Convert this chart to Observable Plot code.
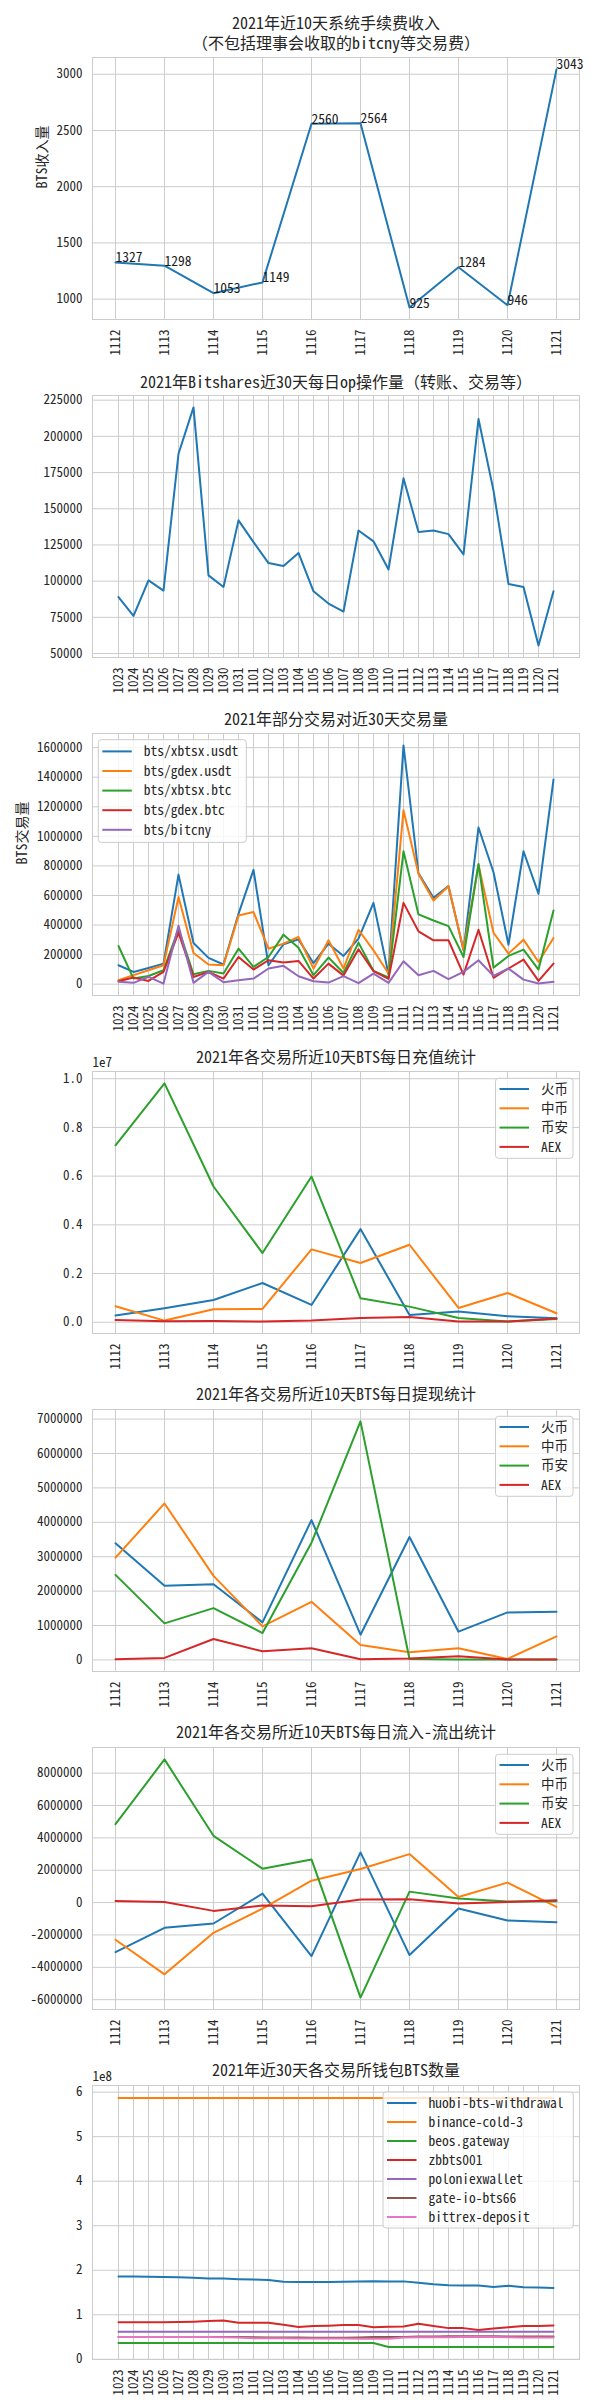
<!DOCTYPE html>
<html><head><meta charset="utf-8">
<script src="https://cdn.jsdelivr.net/npm/d3@7"></script>
<script src="https://cdn.jsdelivr.net/npm/@observablehq/plot@0.6"></script>
<style>
body{margin:0;background:#fff}
#charts{width:600px}
#charts svg{display:block}
</style>
</head><body><div id="charts"></div>
<script>
// ---------- data ----------
const days10 = ["1112","1113","1114","1115","1116","1117","1118","1119","1120","1121"];
const days30 = ["1023","1024","1025","1026","1027","1028","1029","1030","1031","1101","1102","1103","1104","1105","1106","1107","1108","1109","1110","1111","1112","1113","1114","1115","1116","1117","1118","1119","1120","1121"];

// panel 1: fee income
const feeIncome = [1327, 1298, 1053, 1149, 2560, 2564, 925, 1284, 946, 3043];
const feeTicks = [1000, 1500, 2000, 2500, 3000];

// panel 2: daily ops
const dailyOps = [89000, 76000, 100500, 93500, 188000, 220000, 104000, 96000, 142000, 127000, 112500, 110500, 119500, 93000, 84500, 79000, 135000, 127500, 108000, 171000, 134000, 135000, 132500, 118500, 212000, 162500, 98000, 96000, 55500, 93000];
const opsTicks = [50000, 75000, 100000, 125000, 150000, 175000, 200000, 225000];

// panel 3: pair volumes
const pairNames = ["bts/xbtsx.usdt", "bts/gdex.usdt", "bts/xbtsx.btc", "bts/gdex.btc", "bts/bitcny"];
const volXbtsxUsdt = [128000, 83000, 110000, 139000, 741000, 279000, 178000, 133000, 476000, 773000, 128000, 270000, 303000, 142000, 274000, 191000, 308000, 550000, 67000, 1615000, 750000, 584000, 663000, 229000, 1060000, 757000, 267000, 899000, 611000, 1384000];
const volGdexUsdt = [27000, 61000, 94000, 128000, 589000, 211000, 133000, 128000, 465000, 488000, 240000, 274000, 319000, 105000, 297000, 106000, 368000, 229000, 72000, 1177000, 746000, 566000, 663000, 234000, 807000, 348000, 207000, 301000, 150000, 312000];
const volXbtsxBtc = [258000, 38000, 55000, 94000, 375000, 67000, 90000, 72000, 240000, 117000, 184000, 335000, 247000, 61000, 180000, 76000, 281000, 90000, 45000, 899000, 472000, 431000, 393000, 184000, 813000, 112000, 191000, 234000, 99000, 499000];
const volGdexBtc = [20000, 45000, 22000, 83000, 348000, 49000, 83000, 38000, 184000, 99000, 162000, 146000, 157000, 38000, 139000, 58000, 236000, 88000, 36000, 550000, 357000, 297000, 297000, 65000, 368000, 43000, 106000, 166000, 22000, 139000];
const volBitcny = [16000, 9000, 49000, 4000, 395000, 9000, 83000, 13000, 27000, 38000, 106000, 124000, 54000, 20000, 11000, 54000, 7000, 72000, 9000, 155000, 61000, 90000, 34000, 83000, 162000, 56000, 106000, 31000, 4000, 16000];
const volTicks = [0, 200000, 400000, 600000, 800000, 1000000, 1200000, 1400000, 1600000];

// panels 4-6: exchanges
const exNames = ["火币", "中币", "币安", "AEX"];
const depHuobi = [273000, 574000, 915000, 1612000, 710000, 3825000, 300000, 437000, 246000, 164000];
const depZb = [656000, 68000, 533000, 546000, 2992000, 2432000, 3183000, 587000, 1202000, 369000];
const depBinance = [7268000, 9808000, 5574000, 2841000, 5984000, 984000, 642000, 178000, 27000, 137000];
const depAex = [96000, 41000, 55000, 27000, 68000, 178000, 219000, 27000, 27000, 150000];
const depTicks = [0, 2000000, 4000000, 6000000, 8000000, 10000000];

const wdHuobi = [3389000, 2153000, 2201000, 1091000, 4065000, 734000, 3572000, 821000, 1381000, 1400000];
const wdZb = [2974000, 4548000, 2443000, 975000, 1690000, 434000, 222000, 338000, 29000, 686000];
const wdBinance = [2472000, 1062000, 1506000, 782000, 3408000, 6932000, 29000, 10000, 10000, 10000];
const wdAex = [19000, 58000, 608000, 251000, 338000, 19000, 39000, 106000, 10000, 10000];
const wdTicks = [0, 1000000, 2000000, 3000000, 4000000, 5000000, 6000000, 7000000];

const netHuobi = [-3059000, -1560000, -1293000, 554000, -3305000, 3100000, -3243000, -370000, -1108000, -1211000];
const netZb = [-2299000, -4434000, -1868000, -370000, 1355000, 2073000, 2997000, 349000, 1232000, -267000];
const netBinance = [4845000, 8848000, 4126000, 2094000, 2669000, -5871000, 677000, 246000, 62000, 82000];
const netAex = [103000, 41000, -513000, -185000, -226000, 185000, 205000, -62000, 41000, 144000];
const netTicks = [-6000000, -4000000, -2000000, 0, 2000000, 4000000, 6000000, 8000000];

// panel 7: wallets
const walletNames = ["huobi-bts-withdrawal", "binance-cold-3", "beos.gateway", "zbbts001", "poloniexwallet", "gate-io-bts66", "bittrex-deposit"];
const wHuobi = [1.86e8,1.86e8,1.855e8,1.85e8,1.845e8,1.83e8,1.815e8,1.815e8,1.80e8,1.79e8,1.78e8,1.74e8,1.735e8,1.735e8,1.735e8,1.74e8,1.745e8,1.755e8,1.75e8,1.75e8,1.72e8,1.685e8,1.665e8,1.655e8,1.66e8,1.625e8,1.65e8,1.62e8,1.615e8,1.60e8];
const wBinance = [5.87e8,5.87e8,5.87e8,5.87e8,5.87e8,5.87e8,5.87e8,5.87e8,5.87e8,5.87e8,5.87e8,5.87e8,5.87e8,5.87e8,5.87e8,5.87e8,5.87e8,5.87e8,5.87e8,5.87e8,5.87e8,5.87e8,5.87e8,5.87e8,5.87e8,5.87e8,5.87e8,5.87e8,5.87e8,5.87e8];
const wBeos = [0.365e8,0.365e8,0.365e8,0.365e8,0.365e8,0.365e8,0.365e8,0.365e8,0.365e8,0.365e8,0.365e8,0.365e8,0.365e8,0.365e8,0.365e8,0.365e8,0.365e8,0.365e8,0.275e8,0.275e8,0.275e8,0.275e8,0.275e8,0.275e8,0.275e8,0.275e8,0.275e8,0.275e8,0.275e8,0.275e8];
const wZb = [0.83e8,0.83e8,0.83e8,0.83e8,0.835e8,0.845e8,0.86e8,0.87e8,0.82e8,0.82e8,0.82e8,0.775e8,0.725e8,0.745e8,0.755e8,0.77e8,0.77e8,0.72e8,0.73e8,0.735e8,0.80e8,0.75e8,0.70e8,0.70e8,0.66e8,0.69e8,0.72e8,0.745e8,0.75e8,0.76e8];
const wPolo = [0.62e8,0.62e8,0.62e8,0.62e8,0.62e8,0.62e8,0.62e8,0.62e8,0.62e8,0.62e8,0.62e8,0.62e8,0.62e8,0.62e8,0.62e8,0.62e8,0.62e8,0.62e8,0.62e8,0.62e8,0.62e8,0.62e8,0.62e8,0.62e8,0.62e8,0.62e8,0.62e8,0.62e8,0.62e8,0.62e8];
const wGate = [0.50e8,0.50e8,0.50e8,0.50e8,0.50e8,0.50e8,0.50e8,0.50e8,0.50e8,0.495e8,0.49e8,0.49e8,0.49e8,0.485e8,0.485e8,0.485e8,0.49e8,0.50e8,0.50e8,0.50e8,0.51e8,0.51e8,0.52e8,0.52e8,0.52e8,0.515e8,0.51e8,0.51e8,0.51e8,0.51e8];
const wBittrex = [0.50e8,0.50e8,0.50e8,0.50e8,0.50e8,0.50e8,0.50e8,0.495e8,0.49e8,0.475e8,0.47e8,0.47e8,0.465e8,0.465e8,0.465e8,0.465e8,0.46e8,0.46e8,0.46e8,0.49e8,0.495e8,0.495e8,0.495e8,0.50e8,0.505e8,0.50e8,0.495e8,0.49e8,0.49e8,0.49e8];
const walletTicks = [0, 1e8, 2e8, 3e8, 4e8, 5e8, 6e8];

const palette = ["#1f77b4", "#ff7f0e", "#2ca02c", "#d62728", "#9467bd", "#8c564b", "#e377c2"];

// ---------- drawing ----------
const FONT = '"Noto Sans Mono CJK SC","Noto Sans CJK SC","Noto Sans",sans-serif';
const INK = "#262626", GRID = "#cccccc";
const W = 600, ML = 92, MR = 21, MB = 41;

function padDomain(arrays) {
  const [a, b] = d3.extent(arrays.flat());
  const r = b - a;
  return [a - 0.05 * r, b + 0.05 * r];
}

function addLegend(svg, names, colors, box) {
  const g = d3.select(svg).append("g")
    .attr("font-family", FONT).attr("font-size", 13.5).attr("text-anchor", "start");
  g.append("rect").attr("x", box.x).attr("y", box.y).attr("width", box.w).attr("height", box.h)
    .attr("rx", 3).attr("fill", "white").attr("fill-opacity", 0.8).attr("stroke", GRID);
  names.forEach((n, i) => {
    const cy = box.y + box.first + i * box.step;
    g.append("line").attr("x1", box.x + 4).attr("x2", box.x + 33.5).attr("y1", cy).attr("y2", cy)
      .attr("stroke", colors[i]).attr("stroke-width", 2);
    g.append("text").attr("x", box.x + 45.5).attr("y", cy).attr("dy", "0.36em")
      .attr("text-anchor", "start").attr("fill", INK).text(n);
  });
}

function makePanel(o) {
  const marks = [
    Plot.gridX({stroke: GRID, strokeOpacity: 1, strokeWidth: 1}),
    Plot.gridY({ticks: o.yTicks, stroke: GRID, strokeOpacity: 1, strokeWidth: 1}),
    Plot.frame({stroke: GRID, strokeWidth: 1}),
    Plot.axisX({tickRotate: -90, tickSize: 0, tickPadding: 10, label: null}),
    Plot.axisY({ticks: o.yTicks, tickFormat: o.yFormat, tickSize: 0, tickPadding: 10, label: null})
  ];
  o.series.forEach((vals, k) => {
    const rows = vals.map((v, i) => ({day: o.days[i], value: v}));
    marks.push(Plot.line(rows, {x: "day", y: "value", stroke: o.colors[k], strokeWidth: 2}));
    if (o.annotate) {
      marks.push(Plot.text(rows, {x: "day", y: "value", text: d => String(d.value),
        textAnchor: "start", lineAnchor: "bottom", fontSize: 13.5, fill: "#1a1a1a"}));
    }
  });
  o.titles.forEach(t => {
    marks.push(Plot.text([t.text], {text: d => d, frameAnchor: "top", dy: t.dy, lineAnchor: "middle",
      fontSize: 16, fill: INK}));
  });
  if (o.yLabel) {
    marks.push(Plot.text([o.yLabel.text], {text: d => d, frameAnchor: "left", rotate: -90,
      dx: o.yLabel.dx, fontSize: 14, fill: INK}));
  }
  if (o.offset) {
    marks.push(Plot.text([o.offset], {text: d => d, frameAnchor: "top-left", textAnchor: "start",
      lineAnchor: "middle", dy: -9, fontSize: 13, fill: INK}));
  }
  const svg = Plot.plot({
    width: W, height: o.height,
    marginLeft: ML, marginRight: MR, marginTop: o.marginTop, marginBottom: MB,
    style: {fontFamily: FONT, fontSize: "13px", color: INK, background: "white", overflow: "visible"},
    x: {type: "point", domain: o.days, padding: o.days.length === 10 ? 0.45 : 1.45},
    y: {domain: padDomain(o.series)},
    marks
  });
  if (o.legend) {
    const b = o.legend;
    addLegend(svg, o.legendNames, o.colors, {x: b.x, y: o.marginTop + b.dy, w: b.w, h: b.h, first: b.first, step: b.step});
  }
  document.getElementById("charts").appendChild(svg);
}

const intFmt = d => String(d);
const exLegend = {x: 495.5, dy: 7.3, w: 77.5, h: 80, first: 10.7, step: 19.3};

makePanel({
  height: 360, marginTop: 57, days: days10, series: [feeIncome], colors: [palette[0]],
  yTicks: feeTicks, yFormat: intFmt, annotate: true,
  titles: [{text: "2021年近10天系统手续费收入", dy: -33.5}, {text: "（不包括理事会收取的bitcny等交易费）", dy: -13.5}],
  yLabel: {text: "BTS收入量", dx: -50}
});
makePanel({
  height: 338, marginTop: 35, days: days30, series: [dailyOps], colors: [palette[0]],
  yTicks: opsTicks, yFormat: intFmt,
  titles: [{text: "2021年Bitshares近30天每日op操作量（转账、交易等）", dy: -13}]
});
makePanel({
  height: 338, marginTop: 35, days: days30,
  series: [volXbtsxUsdt, volGdexUsdt, volXbtsxBtc, volGdexBtc, volBitcny], colors: palette.slice(0, 5),
  yTicks: volTicks, yFormat: intFmt,
  titles: [{text: "2021年部分交易对近30天交易量", dy: -14}],
  yLabel: {text: "BTS交易量", dx: -70},
  legendNames: pairNames, legend: {x: 98.3, dy: 6.7, w: 148, h: 102.7, first: 11.7, step: 19.6}
});
makePanel({
  height: 338, marginTop: 35, days: days10,
  series: [depHuobi, depZb, depBinance, depAex], colors: palette.slice(0, 4),
  yTicks: depTicks, yFormat: d => (d / 1e7).toFixed(1), offset: "1e7",
  titles: [{text: "2021年各交易所近10天BTS每日充值统计", dy: -14}],
  legendNames: exNames, legend: exLegend
});
makePanel({
  height: 338, marginTop: 35, days: days10,
  series: [wdHuobi, wdZb, wdBinance, wdAex], colors: palette.slice(0, 4),
  yTicks: wdTicks, yFormat: intFmt,
  titles: [{text: "2021年各交易所近10天BTS每日提现统计", dy: -15}],
  legendNames: exNames, legend: exLegend
});
makePanel({
  height: 338, marginTop: 35, days: days10,
  series: [netHuobi, netZb, netBinance, netAex], colors: palette.slice(0, 4),
  yTicks: netTicks, yFormat: intFmt,
  titles: [{text: "2021年各交易所近10天BTS每日流入-流出统计", dy: -14.5}],
  legendNames: exNames, legend: exLegend
});
makePanel({
  height: 350, marginTop: 35, days: days30,
  series: [wHuobi, wBinance, wBeos, wZb, wPolo, wGate, wBittrex], colors: palette,
  yTicks: walletTicks, yFormat: d => String(Math.round(d / 1e8)), offset: "1e8",
  titles: [{text: "2021年近30天各交易所钱包BTS数量", dy: -14.5}],
  legendNames: walletNames, legend: {x: 383, dy: 7, w: 190.3, h: 136, first: 11, step: 19}
});
</script>
</body></html>
